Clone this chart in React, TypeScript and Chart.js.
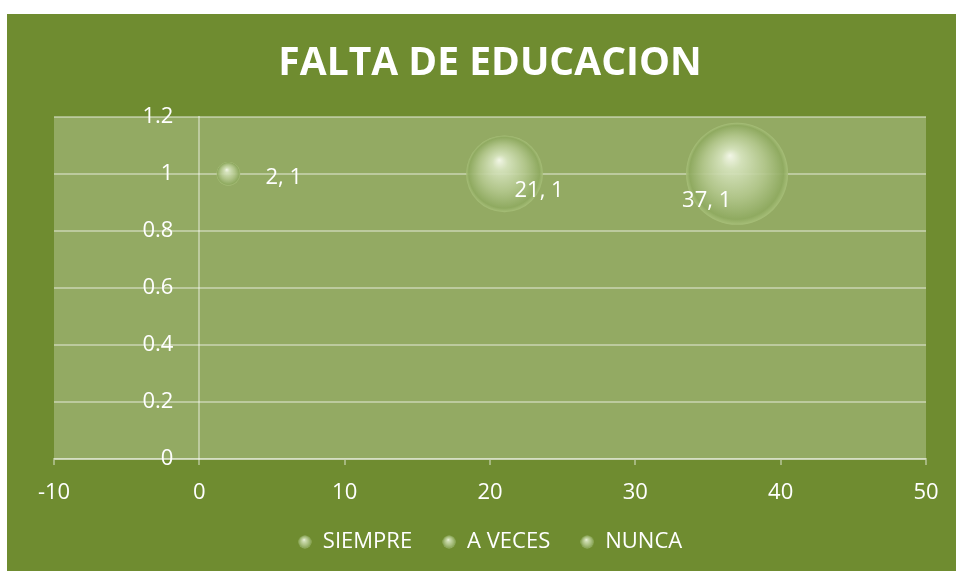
import { useEffect, useRef } from "react";
import { Chart, registerables } from "chart.js";
Chart.register(...registerables);

const TITLE = "FALTA DE EDUCACION";
const SERIES = ["SIEMPRE", "A VECES", "NUNCA"];
const X_VALUES = [2, 21, 37];
const Y_VALUES = [1, 1, 1];
const BUBBLE_SIZES = [2, 21, 37];
const X_TICKS = [-10, 0, 10, 20, 30, 40, 50];
const Y_TICKS = [0, 0.2, 0.4, 0.6, 0.8, 1, 1.2];

// style
const OUTER_BG = "#6f8c30";
const PLOT_BG = "#93aa63";
const GRID = "rgba(255,255,255,0.38)";
const FONT = "'Open Sans', 'DejaVu Sans', sans-serif";
const TICK_SIZE = 22;
const MAX_RADIUS = 51;
const Y_LABEL_GAP = 26;
const LABEL_OFFSETS = [
  [37, 4],
  [10, 17],
  [-55, 27],
];

function radiusFor(i: number) {
  const maxSize = Math.max(...BUBBLE_SIZES);
  return MAX_RADIUS * Math.sqrt(BUBBLE_SIZES[i] / maxSize);
}

function sphereFill(g: CanvasRenderingContext2D, x: number, y: number, r: number) {
  const grad = g.createRadialGradient(x - r * 0.14, y - r * 0.36, 0, x, y, r);
  grad.addColorStop(0, "rgba(246,249,236,0.96)");
  grad.addColorStop(0.2, "rgba(216,229,192,0.92)");
  grad.addColorStop(0.6, "rgba(180,200,142,0.9)");
  grad.addColorStop(0.92, "rgba(143,170,96,0.93)");
  grad.addColorStop(1, "rgba(168,192,122,0.9)");
  return grad;
}

function makeLegendSphere() {
  const c = document.createElement("canvas");
  c.width = 14;
  c.height = 14;
  const g = c.getContext("2d")!;
  g.fillStyle = sphereFill(g, 7, 7, 6.5);
  g.beginPath();
  g.arc(7, 7, 6.5, 0, Math.PI * 2);
  g.fill();
  return c;
}

const bgPlugin = {
  id: "bgPlugin",
  beforeDraw(chart: any) {
    const { ctx, chartArea: a } = chart;
    ctx.save();
    ctx.fillStyle = OUTER_BG;
    ctx.fillRect(0, 0, chart.width, chart.height);
    ctx.fillStyle = PLOT_BG;
    ctx.fillRect(a.left, a.top, a.right - a.left, a.bottom - a.top);
    ctx.restore();
    // move the y tick labels a little to the left of the crossing axis
    const ys = chart.scales.y;
    const items = ys.getLabelItems(chart.chartArea);
    if (!(items as any).__shifted) {
      items.forEach((it: any) => {
        it.options.translation[0] -= Y_LABEL_GAP;
      });
      (items as any).__shifted = true;
    }
  },
};

const labelPlugin = {
  id: "labelPlugin",
  afterDatasetsDraw(chart: any) {
    const { ctx } = chart;
    ctx.save();
    ctx.fillStyle = "#ffffff";
    ctx.font = `${TICK_SIZE}px ${FONT}`;
    ctx.textAlign = "left";
    ctx.textBaseline = "middle";
    chart.data.datasets.forEach((ds: any, i: number) => {
      const meta = chart.getDatasetMeta(i);
      const el = meta.data[0];
      if (!el) return;
      const raw = ds.data[0];
      const [dx, dy] = LABEL_OFFSETS[i];
      ctx.fillText(`${raw.x}, ${raw.y}`, el.x + dx, el.y + dy);
    });
    ctx.restore();
  },
};

export default function App() {
  const ref = useRef<HTMLCanvasElement>(null);
  useEffect(() => {
    if (!ref.current) return;
    const sphere = makeLegendSphere();
    const datasets = SERIES.map((name, i) => ({
      label: name,
      data: [{ x: X_VALUES[i], y: Y_VALUES[i] }],
      radius: () => radiusFor(i),
      borderWidth: 0,
      borderColor: "rgba(0,0,0,0)",
      backgroundColor: (c: any) => {
        const fallback = "rgba(190,208,150,0.85)";
        const chart = c.chart;
        const xs = chart.scales?.x;
        const ys = chart.scales?.y;
        if (!xs || !ys || c.type !== "data" || !c.raw) return fallback;
        const px = xs.getPixelForValue(c.raw.x);
        const py = ys.getPixelForValue(c.raw.y);
        if (!Number.isFinite(px) || !Number.isFinite(py)) return fallback;
        return sphereFill(chart.ctx, px, py, radiusFor(i));
      },
    }));
    const chart = new Chart(ref.current, {
      type: "bubble",
      data: { datasets },
      plugins: [bgPlugin, labelPlugin],
      options: {
        animation: false,
        responsive: false,
        devicePixelRatio: 1,
        events: [],
        layout: { autoPadding: false, padding: { left: 47, right: 30, top: 0, bottom: 8 } },
        plugins: {
          tooltip: { enabled: false },
          title: {
            display: true,
            text: TITLE,
            color: "#ffffff",
            font: { family: FONT, size: 39, weight: "bold", lineHeight: 1.2 },
            padding: { top: 26, bottom: 30 },
          },
          legend: {
            position: "bottom",
            labels: {
              color: "#ffffff",
              font: { family: FONT, size: TICK_SIZE },
              usePointStyle: true,
              pointStyle: sphere as any,
              boxWidth: 14,
              boxHeight: 14,
              padding: 30,
            },
          },
        },
        scales: {
          x: {
            type: "linear",
            min: X_TICKS[0],
            max: X_TICKS[X_TICKS.length - 1],
            afterBuildTicks: (s: any) => {
              s.ticks = X_TICKS.map((v) => ({ value: v }));
            },
            afterFit: (s: any) => {
              s.height = 42;
              s.paddingLeft = 0;
              s.paddingRight = 0;
            },
            grid: { drawOnChartArea: false, drawTicks: true, tickLength: 6, color: GRID, lineWidth: 2 },
            border: { display: true, color: GRID, width: 2 },
            ticks: { color: "#ffffff", font: { family: FONT, size: TICK_SIZE }, padding: 15, maxRotation: 0 },
          },
          y: {
            type: "linear",
            position: { x: 0 } as any,
            min: Y_TICKS[0],
            max: Y_TICKS[Y_TICKS.length - 1],
            afterBuildTicks: (s: any) => {
              s.ticks = Y_TICKS.map((v) => ({ value: v }));
            },
            grid: { drawTicks: false, color: GRID, lineWidth: 2 },
            border: { display: true, color: GRID, width: 2 },
            ticks: {
              color: "#ffffff",
              font: { family: FONT, size: TICK_SIZE },
              callback: (v: any) => `${v}`,
            },
          },
        },
      },
    });
    return () => chart.destroy();
  }, []);
  return (
    <div style={{ position: "fixed", inset: 0, background: "#ffffff" }}>
      <div style={{ position: "absolute", left: 7, top: 14, width: 949, height: 557, background: OUTER_BG }}>
        <canvas ref={ref} width={949} height={557} style={{ display: "block", width: 949, height: 557 }} />
      </div>
    </div>
  );
}
